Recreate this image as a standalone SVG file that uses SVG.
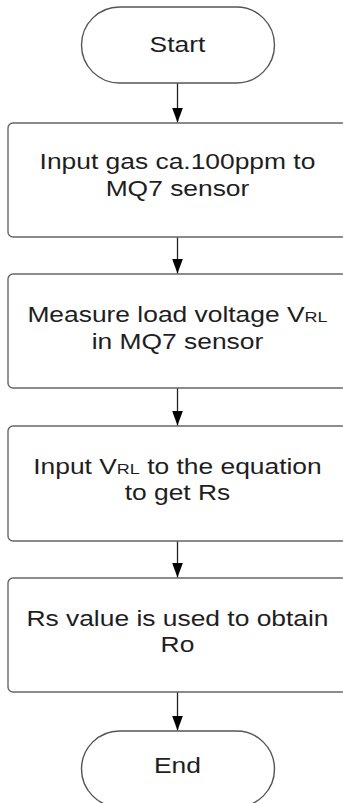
<svg xmlns="http://www.w3.org/2000/svg" width="343" height="803" viewBox="0 0 343 803">
<style>
.term{fill:#fff;stroke:#555;stroke-width:1.4}
.box{fill:#fff;stroke:#666;stroke-width:1.4}
.lbl{font-family:"Liberation Sans",Arial,sans-serif;font-size:22px;fill:#1e1e1e;text-anchor:middle}
.sub{font-size:15px}
.conn{stroke:#222;stroke-width:1.3;fill:none;marker-end:url(#ah)}
</style>
<defs>
<marker id="ah" markerUnits="userSpaceOnUse" markerWidth="16" markerHeight="12" refX="15" refY="5.5" orient="auto" viewBox="0 0 16 11">
<path d="M0,0 L15,5.5 L0,11 Z" fill="#000"/>
</marker>
</defs>
<rect width="343" height="803" fill="#fff"/>
<g id="connectors">
<line class="conn" x1="177.5" y1="83" x2="177.5" y2="122.5"/>
<line class="conn" x1="177.5" y1="237" x2="177.5" y2="273.5"/>
<line class="conn" x1="177.5" y1="388" x2="177.5" y2="425.5"/>
<line class="conn" x1="177.5" y1="541" x2="177.5" y2="577.5"/>
<line class="conn" x1="177.5" y1="692" x2="177.5" y2="730.5"/>
</g>
<g id="start">
<rect class="term" x="81.5" y="7" width="193" height="76" rx="38"/>
<g transform="scale(1.2,1)"><text class="lbl" x="147.9" y="52">Start</text></g>
</g>
<g id="step1">
<rect class="box" x="8" y="123" width="339" height="114" rx="5"/>
<g transform="scale(1.2,1)">
<text class="lbl" x="147.9" y="169">Input gas ca.100ppm to</text>
<text class="lbl" x="147.9" y="196">MQ7 sensor</text>
</g>
</g>
<g id="step2">
<rect class="box" x="8" y="274" width="339" height="114" rx="5"/>
<g transform="scale(1.2,1)">
<text class="lbl" x="147.9" y="322">Measure load voltage V<tspan class="sub">RL</tspan></text>
<text class="lbl" x="147.9" y="349">in MQ7 sensor</text>
</g>
</g>
<g id="step3">
<rect class="box" x="8" y="426" width="339" height="115" rx="5"/>
<g transform="scale(1.2,1)">
<text class="lbl" x="147.9" y="474">Input V<tspan class="sub">RL</tspan> to the equation</text>
<text class="lbl" x="147.9" y="500">to get Rs</text>
</g>
</g>
<g id="step4">
<rect class="box" x="8" y="578" width="339" height="114" rx="5"/>
<g transform="scale(1.2,1)">
<text class="lbl" x="147.9" y="626">Rs value is used to obtain</text>
<text class="lbl" x="147.9" y="652">Ro</text>
</g>
</g>
<g id="end">
<rect class="term" x="81.5" y="731" width="193" height="76" rx="38"/>
<g transform="scale(1.2,1)"><text class="lbl" x="147.9" y="773">End</text></g>
</g>
</svg>
